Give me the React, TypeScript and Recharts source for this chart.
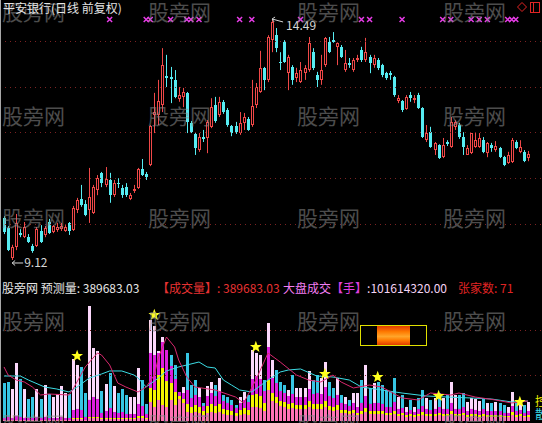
import {
  ComposedChart,
  Bar,
  Line,
  Scatter,
  XAxis,
  YAxis,
  ReferenceLine,
  ReferenceDot,
} from 'recharts';

// daily candles, 平安银行 前复权
const opens = [
  10.06, 9.84, 9.16, 9.41, 9.72, 9.63, 9.63, 9.43, 9.43, 9.77,
  9.68, 9.97, 9.75, 9.79, 9.81, 9.77, 9.95, 9.79, 10.24, 10.48,
  10.37, 10.24, 10.17, 10.69, 11.07, 10.8, 10.91, 10.57, 10.84, 10.73,
  10.75, 10.48, 10.66, 10.73, 11.16, 11.04, 11.25, 12.36, 12.36, 12.59,
  13.24, 13.21, 13.15, 12.72, 12.77, 12.86, 12.19, 11.94, 11.58, 11.87,
  11.85, 12.1, 12.59, 12.36, 12.66, 12.48, 12.12, 12.12, 11.96, 12.19,
  12.27, 12.14, 12.59, 12.88, 13.42, 13.15, 14.04, 14.15, 13.55, 14.0,
  13.3, 13.44, 13.19, 13.1, 13.3, 13.37, 13.77, 13.26, 13.15, 13.48,
  14.0, 14.04, 13.89, 13.89, 13.37, 13.53, 13.37, 13.6, 13.82, 13.6,
  13.66, 13.48, 13.6, 13.48, 13.3, 13.3, 13.21, 12.68, 12.68, 12.5,
  12.81, 12.7, 12.81, 12.52, 11.8, 11.98, 11.58, 11.69, 11.42, 11.76,
  11.65, 12.1, 12.14, 11.87, 11.47, 11.51, 11.65, 11.65, 11.8, 11.51,
  11.69, 11.58, 11.63, 11.42, 11.29, 11.31, 11.76, 11.54, 11.54, 11.4,
];
const highs = [
  10.1, 9.88, 9.46, 10.15, 9.81, 9.97, 9.7, 9.48, 9.86, 9.9,
  9.88, 10.04, 9.9, 9.95, 9.95, 9.9, 9.97, 10.33, 10.51, 10.8,
  10.46, 11.18, 10.8, 11.02, 11.09, 11.2, 11.07, 10.91, 10.95, 10.8,
  10.84, 10.62, 10.8, 11.18, 11.38, 11.09, 12.14, 12.86, 13.15, 13.86,
  13.71, 13.44, 13.37, 12.99, 12.97, 12.88, 12.23, 11.98, 11.96, 12.03,
  12.25, 12.74, 12.77, 12.77, 12.7, 12.52, 12.14, 12.21, 12.43, 12.41,
  12.32, 13.15, 13.08, 13.8, 13.44, 14.15, 14.49, 14.31, 13.77, 14.04,
  13.71, 13.48, 13.42, 13.55, 13.48, 14.11, 13.86, 13.33, 13.71, 14.11,
  14.11, 14.22, 13.99, 13.93, 13.82, 13.64, 13.64, 13.71, 13.89, 14.09,
  13.71, 13.71, 13.64, 13.51, 13.33, 13.35, 13.24, 12.81, 12.7, 12.81,
  12.88, 12.81, 12.86, 12.54, 12.14, 12.1, 11.76, 11.71, 11.85, 11.8,
  12.32, 12.25, 12.19, 11.98, 11.69, 11.96, 11.96, 11.96, 11.87, 11.76,
  11.74, 11.78, 11.65, 11.45, 11.54, 11.85, 11.8, 11.8, 11.58, 11.56,
];
const lows = [
  9.7, 9.32, 9.12, 9.34, 9.63, 9.61, 9.5, 9.28, 9.41, 9.5,
  9.63, 9.7, 9.72, 9.75, 9.77, 9.75, 9.68, 9.77, 10.17, 10.31,
  10.1, 9.95, 10.15, 10.57, 10.75, 10.75, 10.4, 10.53, 10.73, 10.51,
  10.53, 10.46, 10.62, 10.71, 11.0, 10.91, 11.22, 11.96, 12.14, 12.43,
  12.99, 12.63, 12.74, 12.66, 12.54, 11.96, 11.96, 11.47, 11.54, 11.76,
  11.51, 12.07, 12.19, 12.32, 12.39, 12.1, 11.89, 11.94, 11.92, 12.03,
  12.01, 12.1, 12.52, 12.86, 12.92, 13.1, 13.77, 13.77, 13.37, 13.53,
  12.92, 13.04, 13.1, 13.08, 13.15, 13.33, 13.37, 12.99, 13.04, 13.44,
  13.75, 13.98, 13.48, 13.64, 13.33, 13.42, 13.33, 13.55, 13.55, 13.55,
  13.3, 13.42, 13.37, 13.21, 13.15, 13.15, 12.77, 12.63, 12.43, 12.48,
  12.66, 12.63, 12.5, 11.85, 11.76, 11.63, 11.47, 11.38, 11.4, 11.67,
  11.63, 12.03, 11.83, 11.47, 11.47, 11.49, 11.63, 11.63, 11.51, 11.42,
  11.54, 11.54, 11.4, 11.22, 11.27, 11.29, 11.6, 11.51, 11.31, 11.33,
];
const closes = [
  9.75, 9.34, 9.41, 9.95, 9.68, 9.86, 9.52, 9.32, 9.81, 9.52,
  9.84, 9.72, 9.88, 9.86, 9.88, 9.86, 9.77, 10.28, 10.46, 10.35,
  10.13, 10.53, 10.75, 10.95, 10.84, 10.93, 10.57, 10.84, 10.82, 10.57,
  10.57, 10.57, 10.71, 11.16, 11.02, 10.98, 12.12, 12.43, 12.68, 13.48,
  13.19, 13.17, 12.77, 12.81, 12.88, 12.21, 11.98, 11.63, 11.87, 11.83,
  12.21, 12.54, 12.23, 12.66, 12.43, 12.14, 11.96, 11.98, 12.19, 12.32,
  12.03, 12.57, 12.99, 13.42, 13.15, 14.11, 14.45, 13.86, 13.53, 13.55,
  13.66, 13.15, 13.3, 13.37, 13.42, 13.98, 13.42, 13.15, 13.37, 14.09,
  13.77, 14.0, 13.98, 13.66, 13.53, 13.48, 13.6, 13.64, 13.6, 13.77,
  13.53, 13.64, 13.42, 13.26, 13.19, 13.26, 12.81, 12.74, 12.48, 12.77,
  12.74, 12.74, 12.52, 11.87, 11.96, 11.65, 11.74, 11.4, 11.69, 11.71,
  12.21, 12.21, 11.87, 11.65, 11.63, 11.96, 11.8, 11.85, 11.54, 11.74,
  11.63, 11.67, 11.42, 11.25, 11.47, 11.8, 11.63, 11.65, 11.33, 11.49,
];

// volume in 万手, plus the three inner layers
const volumes = [
  77.9, 80.0, 65.6, 119.0, 86.1, 65.6, 45.1, 49.2, 65.6, 45.1,
  73.8, 55.4, 49.2, 55.4, 71.8, 57.4, 55.4, 127.2, 114.9, 110.8,
  57.4, 235.9, 149.7, 143.6, 61.5, 75.9, 98.4, 71.8, 57.4, 65.6,
  53.3, 49.2, 49.2, 108.7, 84.1, 34.9, 207.2, 194.8, 143.6, 172.3,
  145.6, 135.4, 114.9, 59.5, 69.7, 139.5, 73.8, 84.1, 67.7, 36.9,
  71.8, 80.0, 73.8, 88.2, 53.3, 49.2, 43.1, 32.8, 49.2, 59.5,
  53.3, 145.6, 139.5, 135.4, 84.1, 201.0, 125.1, 104.6, 80.0, 73.8,
  63.6, 94.3, 67.7, 67.7, 67.7, 102.6, 84.1, 94.3, 88.2, 121.0,
  80.0, 67.7, 88.2, 53.3, 49.2, 43.1, 57.4, 57.4, 84.1, 114.9,
  67.7, 77.9, 80.0, 73.8, 63.6, 59.5, 88.2, 49.2, 53.3, 28.7,
  43.1, 28.7, 47.2, 63.6, 47.2, 43.1, 47.2, 57.4, 47.2, 53.3,
  80.0, 53.3, 53.3, 57.4, 39.0, 47.2, 45.1, 41.0, 47.2, 36.9,
  36.9, 39.0, 36.9, 32.8, 28.7, 59.5, 36.9, 43.1, 32.8, 38.968303,
];
const volPink = [
  2.1, 2.1, 2.1, 2.1, 2.1, 2.1, 2.1, 2.1, 2.1, 2.1,
  2.1, 2.1, 2.1, 2.1, 2.1, 2.1, 2.1, 4.1, 4.1, 4.1,
  2.1, 6.2, 6.2, 6.2, 4.1, 4.1, 4.1, 4.1, 4.1, 4.1,
  4.1, 4.1, 4.1, 6.2, 6.2, 4.1, 39.0, 28.7, 43.1, 32.8,
  28.7, 43.1, 32.8, 45.1, 36.9, 18.5, 16.4, 18.5, 16.4, 12.3,
  16.4, 18.5, 16.4, 18.5, 14.4, 12.3, 12.3, 10.3, 12.3, 14.4,
  12.3, 28.7, 28.7, 26.7, 20.5, 63.6, 41.0, 36.9, 30.8, 28.7,
  24.6, 26.7, 24.6, 24.6, 24.6, 28.7, 24.6, 24.6, 24.6, 28.7,
  22.6, 20.5, 22.6, 16.4, 16.4, 14.4, 16.4, 12.3, 14.4, 18.5,
  14.4, 14.4, 14.4, 14.4, 12.3, 12.3, 14.4, 10.3, 12.3, 8.2,
  10.3, 8.2, 10.3, 12.3, 10.3, 10.3, 10.3, 12.3, 10.3, 10.3,
  14.4, 10.3, 10.3, 12.3, 8.2, 10.3, 10.3, 8.2, 10.3, 8.2,
  8.2, 8.2, 8.2, 8.2, 8.2, 12.3, 8.2, 10.3, 8.2, 8.2,
];
const volYellow = [
  0, 0, 0, 0, 0, 0, 0, 0, 0, 0,
  0, 0, 0, 0, 0, 0, 0, 2.1, 2.1, 2.1,
  0, 2.1, 2.1, 2.1, 2.1, 2.1, 2.1, 2.1, 2.1, 2.1,
  2.1, 2.1, 2.1, 4.1, 4.1, 2.1, 28.7, 34.9, 51.3, 75.9,
  53.3, 34.9, 26.7, 6.2, 8.2, 16.4, 12.3, 14.4, 12.3, 8.2,
  14.4, 16.4, 14.4, 16.4, 10.3, 10.3, 8.2, 6.2, 10.3, 12.3,
  10.3, 24.6, 26.7, 24.6, 16.4, 20.5, 16.4, 12.3, 10.3, 10.3,
  10.3, 10.3, 8.2, 8.2, 8.2, 12.3, 10.3, 10.3, 10.3, 12.3,
  8.2, 8.2, 10.3, 6.2, 6.2, 6.2, 6.2, 4.1, 6.2, 8.2,
  6.2, 6.2, 6.2, 6.2, 4.1, 4.1, 6.2, 4.1, 4.1, 4.1,
  4.1, 4.1, 4.1, 6.2, 4.1, 4.1, 4.1, 4.1, 4.1, 4.1,
  6.2, 4.1, 4.1, 4.1, 4.1, 4.1, 4.1, 4.1, 4.1, 4.1,
  4.1, 4.1, 4.1, 2.1, 2.1, 6.2, 4.1, 4.1, 2.1, 4.1,
];
const volMagenta = [
  4.1, 6.2, 4.1, 8.2, 6.2, 4.1, 4.1, 4.1, 6.2, 4.1,
  6.2, 4.1, 4.1, 4.1, 6.2, 4.1, 4.1, 16.4, 18.5, 16.4,
  6.2, 34.9, 41.0, 36.9, 10.3, 14.4, 20.5, 12.3, 10.3, 12.3,
  8.2, 8.2, 8.2, 24.6, 20.5, 8.2, 71.8, 71.8, 45.1, 53.3,
  63.6, 34.9, 26.7, 8.2, 12.3, 28.7, 18.5, 20.5, 20.5, 10.3,
  20.5, 22.6, 20.5, 24.6, 16.4, 14.4, 12.3, 10.3, 14.4, 16.4,
  16.4, 32.8, 36.9, 34.9, 24.6, 67.7, 30.8, 28.7, 20.5, 18.5,
  16.4, 18.5, 16.4, 16.4, 16.4, 24.6, 20.5, 22.6, 20.5, 28.7,
  20.5, 18.5, 20.5, 14.4, 12.3, 10.3, 14.4, 12.3, 16.4, 24.6,
  14.4, 16.4, 16.4, 14.4, 12.3, 12.3, 18.5, 10.3, 10.3, 6.2,
  8.2, 6.2, 10.3, 12.3, 10.3, 8.2, 10.3, 12.3, 10.3, 10.3,
  16.4, 10.3, 10.3, 12.3, 8.2, 10.3, 8.2, 8.2, 10.3, 8.2,
  8.2, 8.2, 8.2, 6.2, 6.2, 12.3, 8.2, 8.2, 6.2, 8.2,
];

// volume averages, read at [day, 万手]
const volMaFast: [number, number][] = [
  [0, 110.8], [1, 94.3], [3, 84.1], [5, 80.0], [7, 69.7], [9, 53.3], [11, 55.4],
  [16, 53.3], [17, 65.6], [20, 110.8], [23, 139.5], [24, 135.4], [26, 114.9],
  [28, 77.9], [30, 69.7], [33, 59.5], [35, 69.7], [37, 94.3], [38, 129.2],
  [40, 172.3], [42, 151.8], [43, 125.1], [45, 90.2], [47, 69.7], [52, 63.6],
  [57, 49.2], [59, 36.9], [62, 84.1], [65, 139.5], [68, 121.0], [72, 94.3],
  [75, 84.1], [78, 80.0], [81, 94.3], [83, 80.0], [86, 67.7], [90, 73.8],
  [93, 69.7], [98, 47.2], [102, 43.1], [105, 57.4], [110, 53.3], [112, 57.4],
  [116, 49.2], [121, 43.1], [125, 36.9], [129, 41.0],
];
const volMaSlow: [number, number][] = [
  [0, 92.3], [4, 92.3], [6, 84.1], [10, 69.7], [13, 65.6], [16, 59.5], [18, 69.7],
  [21, 88.2], [24, 96.4], [26, 102.6], [29, 102.6], [32, 94.3], [33, 88.2],
  [35, 69.7], [38, 88.2], [40, 102.6], [43, 110.8], [48, 121.0], [50, 110.8],
  [52, 108.7], [54, 84.1], [56, 73.8], [58, 63.6], [61, 59.5], [65, 84.1],
  [68, 100.5], [70, 104.6], [73, 106.7], [77, 92.3], [81, 90.2], [85, 84.1],
  [88, 69.7], [93, 63.6], [98, 57.4], [104, 51.3], [109, 49.2], [115, 47.2],
  [120, 45.1], [125, 39.0], [129, 41.0],
];
const starMarks: [number, number][] = [
  [18, 133.3], [37, 217.4], [62, 151.8], [79, 96.4], [92, 90.2], [107, 51.3], [127, 39.0],
];
const signalDays = [26, 35, 36, 41, 45, 46, 48, 58, 61, 73, 88, 90, 98, 108, 110, 115, 117, 119, 124, 125, 126];
const signalLevel = 14.5;

const priceTicks = [14.02, 13.0, 11.98, 10.955, 9.93];
const volTicks = [94.3, 186.6];
const marketVolume = 101614320;
const riseCount = 71;

const W = 542;
const PRICE_DOMAIN: [number, number] = [8.717, 14.9375];
const VOL_DOMAIN: [number, number] = [0, 256.4];
const MARGIN = { top: 0, right: 12, bottom: 0, left: 2 };

const UP = '#f04848';
const DOWN = '#56ecf2';
const GRID = '#7c2222';
const FONT = '"Noto Sans CJK SC", "Noto Sans", sans-serif';

const fastMap = new Map(volMaFast);
const slowMap = new Map(volMaSlow);
const starMap = new Map(starMarks);
const signalSet = new Set(signalDays);

const rows = opens.map((open, i) => ({
  i,
  open,
  high: highs[i],
  low: lows[i],
  close: closes[i],
  pk: volPink[i],
  yl: volYellow[i],
  mg: volMagenta[i],
  rest: Math.max(0, volumes[i] - volPink[i] - volYellow[i] - volMagenta[i]),
  fast: fastMap.get(i) ?? null,
  slow: slowMap.get(i) ?? null,
  star: starMap.get(i) ?? null,
  sig: signalSet.has(i) ? signalLevel : null,
}));

const hiIdx = highs.indexOf(Math.max(...highs));
const loIdx = lows.indexOf(Math.min(...lows));
const lastVol = (volumes[volumes.length - 1] * 10000).toFixed(2);

const DottedGrid = (p: any) => {
  const y = Math.round(p.y1) + 0.5;
  return <line x1={0} x2={W} y1={y} y2={y} stroke={GRID} strokeDasharray="1 4" />;
};

function Candle(props: any) {
  const { x, y, width, height, payload } = props;
  if (!payload) return <g />;
  const { open, close, high, low } = payload;
  const top = Math.min(y, y + height);
  const k = Math.abs(height) / (high - low || 1);
  const py = (v: number) => top + (high - v) * k;
  const left = Math.round(x + width / 2 - 1.5);
  const mid = left + 1.5;
  const yT = Math.round(py(Math.max(open, close)));
  const yB = Math.max(Math.round(py(Math.min(open, close))), yT + 1);
  const yH = py(high);
  const yL = py(low);
  if (close >= open) {
    return (
      <g>
        <line x1={mid} x2={mid} y1={yH} y2={yT} stroke={UP} />
        <line x1={mid} x2={mid} y1={yB} y2={yL} stroke={UP} />
        {yB - yT > 2 ? (
          <rect x={left + 0.5} y={yT + 0.5} width={2} height={yB - yT - 1} fill="#000" stroke={UP} />
        ) : (
          <rect x={left} y={yT} width={3} height={yB - yT} fill={UP} />
        )}
      </g>
    );
  }
  return (
    <g>
      <line x1={mid} x2={mid} y1={yH} y2={yL} stroke={DOWN} />
      <rect x={left} y={yT} width={3} height={yB - yT} fill={DOWN} />
    </g>
  );
}

const SignalMark = (p: any) => {
  if (p.payload?.sig == null) return <g />;
  const { cx, cy } = p;
  const s = 2.5;
  return (
    <path
      d={`M${cx - s},${cy - s}L${cx + s},${cy + s}M${cx + s},${cy - s}L${cx - s},${cy + s}`}
      stroke="#e63ce6"
      strokeWidth={1.5}
    />
  );
};

const StarMark = (p: any) => {
  if (p.payload?.star == null) return <g />;
  const { cx, cy } = p;
  const pts: string[] = [];
  for (let k = 0; k < 10; k++) {
    const r = k % 2 ? 2.6 : 6.2;
    const a = -Math.PI / 2 + (k * Math.PI) / 5;
    pts.push(`${cx + r * Math.cos(a)},${cy + r * Math.sin(a)}`);
  }
  return <polygon points={pts.join(' ')} fill="#ffff1e" />;
};

const volSeg = (fill: string) => (p: any) =>
  p.height > 0.2 ? (
    <rect x={Math.round(p.x + p.width / 2 - 1.5)} y={p.y} width={3} height={p.height} fill={fill} />
  ) : (
    <g />
  );

const VolOuter = (p: any) => {
  if (!(p.height > 0.2)) return <g />;
  const up = p.payload.close >= p.payload.open;
  return (
    <rect
      x={Math.round(p.x + p.width / 2 - 1.5)}
      y={p.y}
      width={3}
      height={p.height}
      fill={up ? '#fcd8fc' : '#36c6e4'}
    />
  );
};

const HighTag = ({ cx, cy, text }: any) => (
  <g>
    <path d={`M${cx},${cy - 1}L${cx + 11},${cy + 2}M${cx},${cy - 1}l3,-2M${cx},${cy - 1}l2,3`} stroke="#d6d6d6" fill="none" />
    <text x={cx + 14} y={cy + 10.5} fill="#d6d6d6" fontSize={12} fontFamily={FONT}>
      {text}
    </text>
  </g>
);

const LowTag = ({ cx, cy, text }: any) => (
  <g>
    <path d={`M${cx},${cy + 3}L${cx + 11},${cy + 3}M${cx},${cy + 3}l3,-2.5M${cx},${cy + 3}l3,2.5`} stroke="#d6d6d6" fill="none" />
    <text x={cx + 12} y={cy + 7.5} fill="#d6d6d6" fontSize={12} fontFamily={FONT}>
      {text}
    </text>
  </g>
);

const watermarkRows = [19.5, 123.5, 225.5, 329, 432];
const watermarkCols = [2, 148, 297, 443];

export default function App() {
  return (
    <div
      style={{
        position: 'absolute',
        left: 0,
        top: 0,
        width: W,
        height: 423,
        background: '#000',
        overflow: 'hidden',
        fontFamily: FONT,
      }}
    >
      <div style={{ position: 'absolute', left: 0, top: 0 }}>
        <ComposedChart width={W} height={278} data={rows} margin={MARGIN}>
          <XAxis dataKey="i" hide />
          <YAxis hide type="number" domain={PRICE_DOMAIN} allowDataOverflow />
          {priceTicks.map((t) => (
            <ReferenceLine key={t} y={t} shape={DottedGrid} />
          ))}
          <Bar
            dataKey={(d: any) => [d.low, d.high]}
            barSize={3}
            shape={Candle}
            isAnimationActive={false}
          />
          <Scatter dataKey="sig" shape={SignalMark} isAnimationActive={false} />
          <ReferenceDot
            x={hiIdx}
            y={highs[hiIdx]}
            shape={(p: any) => <HighTag cx={p.cx} cy={p.cy} text={highs[hiIdx].toFixed(2)} />}
          />
          <ReferenceDot
            x={loIdx}
            y={lows[loIdx]}
            shape={(p: any) => <LowTag cx={p.cx} cy={p.cy} text={lows[loIdx].toFixed(2)} />}
          />
        </ComposedChart>
      </div>

      <div style={{ position: 'absolute', left: 0, top: 278 }}>
        <ComposedChart width={W} height={145} data={rows} margin={{ ...MARGIN, top: 18, bottom: 2 }}>
          <XAxis dataKey="i" hide />
          <YAxis hide type="number" domain={VOL_DOMAIN} allowDataOverflow />
          {volTicks.map((t) => (
            <ReferenceLine key={t} y={t} shape={DottedGrid} />
          ))}
          <Bar dataKey="pk" stackId="v" barSize={3} shape={volSeg('#ff72b6')} isAnimationActive={false} />
          <Bar dataKey="yl" stackId="v" barSize={3} shape={volSeg('#f4f400')} isAnimationActive={false} />
          <Bar dataKey="mg" stackId="v" barSize={3} shape={volSeg('#de1ede')} isAnimationActive={false} />
          <Bar dataKey="rest" stackId="v" barSize={3} shape={VolOuter} isAnimationActive={false} />
          <Line dataKey="slow" stroke="#3cdce4" strokeWidth={1} dot={false} connectNulls isAnimationActive={false} />
          <Line dataKey="fast" stroke="#d8286e" strokeWidth={1} dot={false} connectNulls isAnimationActive={false} />
          <Scatter dataKey="star" shape={StarMark} isAnimationActive={false} />
        </ComposedChart>
      </div>

      <svg
        width={W}
        height={423}
        style={{ position: 'absolute', left: 0, top: 0, pointerEvents: 'none' }}
        fontFamily={FONT}
      >
        <defs>
          <linearGradient id="heat" x1="0" y1="0" x2="0" y2="1">
            <stop offset="0" stopColor="#e03a00" />
            <stop offset="0.3" stopColor="#ff7a00" />
            <stop offset="0.55" stopColor="#ffa52a" />
            <stop offset="0.75" stopColor="#ff7a00" />
            <stop offset="1" stopColor="#e03a00" />
          </linearGradient>
        </defs>

        {watermarkRows.map((y) =>
          watermarkCols.map((x) => (
            <text key={`${x}-${y}`} x={x} y={y} fontSize={21} fill="#8a8a8a" opacity={0.55}>
              股旁网
            </text>
          )),
        )}

        <line x1={0.5} x2={0.5} y1={0} y2={423} stroke="#a8a8a8" />

        <text x={3} y={13} fontSize={12} fill="#e4e4e4">
          平安银行(日线 前复权)
        </text>
        <path d="M522,2.5L526.5,7L522,11.5L517.5,7Z" fill="none" stroke="#e02424" />
        <rect x={530.5} y={2.5} width={9} height={10} fill="none" stroke="#e02424" />
        <line x1={533.5} x2={533.5} y1={3} y2={12} stroke="#e02424" />

        <text x={2} y={293} fontSize={12} fill="#e6e6e6">
          股旁网 预测量: {lastVol}
        </text>
        <text x={157} y={293} fontSize={12} fill="#e83232">
          【成交量】: {lastVol}
        </text>
        <text x={283} y={293} fontSize={12}>
          <tspan fill="#f27ef2">大盘成交</tspan>
          <tspan fill="#e040e0">【手】</tspan>
          <tspan fill="#f3d2f3">:{marketVolume.toFixed(2)}</tspan>
        </text>
        <text x={458} y={293} fontSize={12} fill="#e02424">
          张家数: {riseCount}
        </text>

        <rect x={360.5} y={325.5} width={66} height={20} fill="#000" stroke="#e0e000" />
        <rect x={377} y={326} width={33} height={19} fill="url(#heat)" />

        <text x={535} y={406} fontSize={12} fill="#f0f000">
          控
        </text>
        <text x={535} y={419} fontSize={12} fill="#3cdce4">
          散
        </text>
      </svg>
    </div>
  );
}
